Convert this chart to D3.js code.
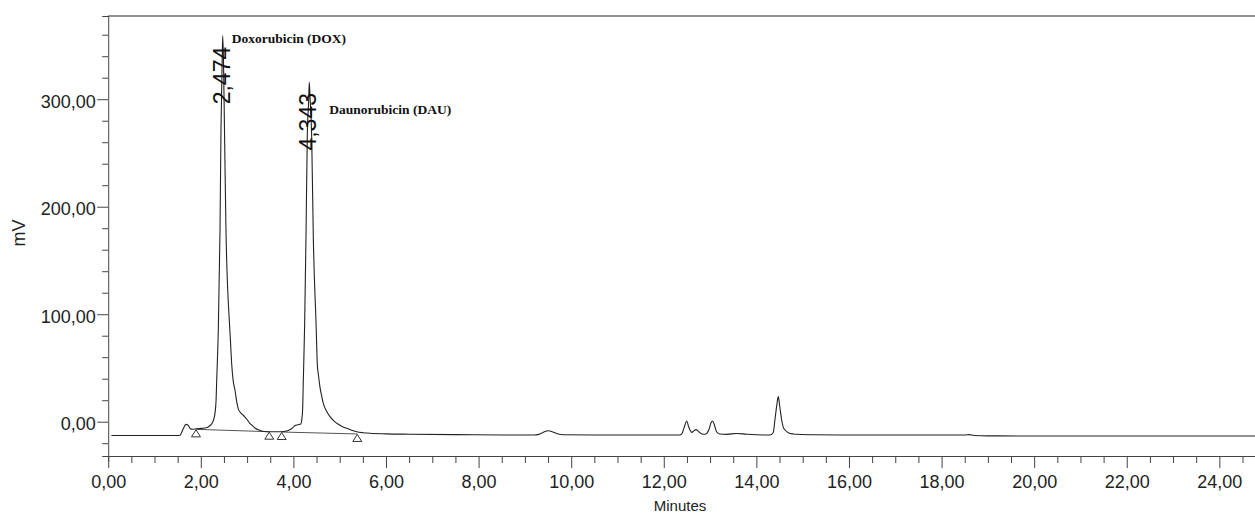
<!DOCTYPE html>
<html>
<head>
<meta charset="utf-8">
<script src="https://cdn.jsdelivr.net/npm/d3@7"></script>
<style>
  body { margin: 0; background: #fff; }
  svg { display: block; font-family: "Liberation Sans", Arial, sans-serif; }
</style>
</head>
<body>
<div id="chart"></div>
<script>
// chromatogram trace (minutes, mV)
const traceMinutes = [
  0.07, 1.50, 1.551, 1.616, 1.68, 1.72, 1.775, 1.82, 1.911, 2.02, 2.127, 2.20, 2.245, 2.285, 2.307, 2.33, 2.344,
  2.378, 2.415, 2.436, 2.462, 2.474, 2.490, 2.512, 2.544, 2.620, 2.641, 2.667, 2.70, 2.738, 2.775, 2.810, 2.868,
  2.918, 2.95, 2.991, 3.05, 3.099, 3.17, 3.242, 3.33, 3.423, 3.55, 3.72, 3.834, 3.90, 3.942, 4.00, 4.030, 4.10,
  4.160, 4.179, 4.200, 4.214, 4.242, 4.272, 4.300, 4.330, 4.343, 4.363, 4.395, 4.430, 4.492, 4.516, 4.545, 4.575,
  4.61, 4.646, 4.72, 4.791, 4.88, 4.970, 5.06, 5.151, 5.26, 5.367, 5.50, 5.654, 6.0, 6.518, 7.5, 8.5, 9.20, 9.30,
  9.40, 9.506, 9.60, 9.70, 9.83, 10.5, 11.5, 12.35, 12.40, 12.45, 12.494, 12.54, 12.603, 12.65, 12.696, 12.75,
  12.82, 12.89, 12.97, 13.02, 13.056, 13.10, 13.14, 13.21, 13.35, 13.57, 13.79, 14.0, 14.29, 14.365, 14.40, 14.44,
  14.473, 14.50, 14.525, 14.546, 14.58, 14.62, 14.69, 14.80, 14.87, 15.3, 15.8, 16.5, 18.5, 18.60, 18.70, 19.0,
  21.0, 24.77
];
const traceMv = [
  -12.8, -12.8, -12.6, -7, -2.5, -3, -6.5, -7, -6.6, -6.2, -5.6, -3.5, -1.5, 3, 8, 20, 39,
  85, 178, 271, 336, 359, 336, 271, 178, 91, 75, 54, 38, 29.5, 19, 12, 8,
  6, 4.5, 2.5, -1, -3, -5.8, -7.5, -8.8, -9.3, -9.4, -9.3, -8.8, -8, -7, -5, -3.7, -2.8,
  -2.2, 1, 12, 38, 88, 172, 265, 299, 316, 299, 265, 172, 88, 54, 42, 32,
  24, 17, 9.5, 4.7, 0.5, -2.4, -4.6, -6.1, -8, -9.3, -10.2, -10.8, -11.3, -11.6, -12, -12.3, -12.4, -11.8,
  -9.8, -8.4, -9.5, -11.2, -12.2, -12.4, -12.4, -12.4, -10.5, -4, 0.7, -5, -9.9, -8.5, -7.4, -9,
  -11.4, -11.7, -8, -1, 0.7, -4, -9.3, -11.4, -11.8, -10.9, -11.7, -12.2, -12.4, -10, 1.6, 15,
  23.3, 16, 7.8, 1.6, -5, -7.7, -10.2, -11.4, -11.7, -12.2, -12.3, -12.4, -12.4, -12.0, -12.8, -13.2,
  -13.3, -13.3
];

// integration baselines (start/end of each integrated peak)
const baseStartMin = [1.896, 3.747];
const baseStartMv = [-7.1, -9.6];
const baseEndMin = [3.479, 5.380];
const baseEndMv = [-9.3, -11.4];

// labelled peaks
const peakTimes = [2.474, 4.343];
const peakHeights = [359, 316];
const peakTimeLabels = ["2,474", "4,343"];
const compoundNames = ["Doxorubicin (DOX)", "Daunorubicin (DAU)"];
const compoundLabelMin = [2.667, 4.775];
const compoundLabelMv = [352, 286];

const xMajorTicks = d3.range(0, 24.01, 2);
const xMinorTicks = d3.range(0, 24.76, 0.5);
const yMajorTicks = [0, 100, 200, 300];
const yMinorTicks = d3.range(-20, 361, 20);

const width = 1255, height = 515;
const fmt = d => d.toFixed(2).replace('.', ',');

const svg = d3.select('#chart').append('svg')
  .attr('width', width)
  .attr('height', height);

const x = d3.scaleLinear().domain([0, 24.77]).range([108.2, 1255]);
const y = d3.scaleLinear().domain([-31.9, 377.4]).range([456, 16]);

// x axis
const xAxis = svg.append('g')
  .attr('transform', `translate(0,${y.range()[0]})`)
  .call(d3.axisBottom(x)
    .tickValues(xMinorTicks)
    .tickSizeOuter(0)
    .tickSize(6)
    .tickFormat(d => xMajorTicks.includes(d) ? fmt(d) : ''));
xAxis.select('.domain').attr('stroke', '#444');
xAxis.selectAll('.tick line')
  .attr('stroke', '#444')
  .attr('y2', d => xMajorTicks.includes(d) ? 12 : 7);
xAxis.selectAll('.tick text')
  .attr('y', 32).attr('dy', null)
  .attr('font-size', 18)
  .attr('fill', '#222')
  .attr('font-family', '"Liberation Sans", Arial, sans-serif');

// y axis
const yAxis = svg.append('g')
  .attr('transform', `translate(${x.range()[0]},0)`)
  .call(d3.axisLeft(y)
    .tickValues(yMinorTicks)
    .tickSizeOuter(0)
    .tickSize(6)
    .tickFormat(d => yMajorTicks.includes(d) ? fmt(d) : ''));
yAxis.select('.domain').attr('stroke', '#444');
yAxis.selectAll('.tick line')
  .attr('stroke', '#444')
  .attr('x2', d => yMajorTicks.includes(d) ? -11 : -6);
yAxis.selectAll('.tick text')
  .attr('x', -12.5).attr('dy', '0.45em')
  .attr('font-size', 18)
  .attr('fill', '#222')
  .attr('font-family', '"Liberation Sans", Arial, sans-serif');

// top frame
svg.append('line')
  .attr('x1', x.range()[0]).attr('x2', width)
  .attr('y1', y.range()[1]).attr('y2', y.range()[1])
  .attr('stroke', '#222');

// axis titles
svg.append('text')
  .attr('transform', 'translate(25,233) rotate(-90)')
  .attr('text-anchor', 'middle')
  .attr('font-size', 18)
  .attr('fill', '#222')
  .text('mV');
svg.append('text')
  .attr('x', 680).attr('y', 511)
  .attr('text-anchor', 'middle')
  .attr('font-size', 15)
  .attr('fill', '#222')
  .text('Minutes');

// integration baselines and markers
svg.selectAll('.baseline')
  .data(baseStartMin)
  .join('line')
  .attr('x1', (d, i) => x(d)).attr('y1', (d, i) => y(baseStartMv[i]))
  .attr('x2', (d, i) => x(baseEndMin[i])).attr('y2', (d, i) => y(baseEndMv[i]))
  .attr('stroke', '#555')
  .attr('stroke-width', 1);

const marks = baseStartMin.map((d, i) => [d, baseStartMv[i]])
  .concat(baseEndMin.map((d, i) => [d, baseEndMv[i]]));
svg.selectAll('.mark')
  .data(marks)
  .join('path')
  .attr('d', d => {
    const px = x(d[0]), py = y(d[1]) + 0.5;
    return `M${px},${py}L${px + 4.5},${py + 7}L${px - 4.5},${py + 7}Z`;
  })
  .attr('fill', 'none')
  .attr('stroke', '#333')
  .attr('stroke-width', 1);

// trace
const line = d3.line()
  .x(d => x(d[0]))
  .y(d => y(d[1]))
  .curve(d3.curveMonotoneX);
svg.append('path')
  .datum(traceMinutes.map((t, i) => [t, traceMv[i]]))
  .attr('d', line)
  .attr('fill', 'none')
  .attr('stroke', '#222')
  .attr('stroke-width', 1.1);

// retention time labels
svg.selectAll('.rt')
  .data(peakTimes)
  .join('text')
  .attr('transform', (d, i) => `translate(${x(d) + 7},${y(peakHeights[i]) + 11}) rotate(-90)`)
  .attr('text-anchor', 'end')
  .attr('font-size', 23)
  .attr('fill', '#111')
  .text((d, i) => peakTimeLabels[i]);

// compound names
svg.selectAll('.cmp')
  .data(compoundNames)
  .join('text')
  .attr('x', (d, i) => x(compoundLabelMin[i]))
  .attr('y', (d, i) => y(compoundLabelMv[i]))
  .attr('font-family', '"Liberation Serif", "Times New Roman", serif')
  .attr('font-weight', 'bold')
  .attr('font-size', 13.5)
  .attr('fill', '#111')
  .text(d => d);
</script>
</body>
</html>
